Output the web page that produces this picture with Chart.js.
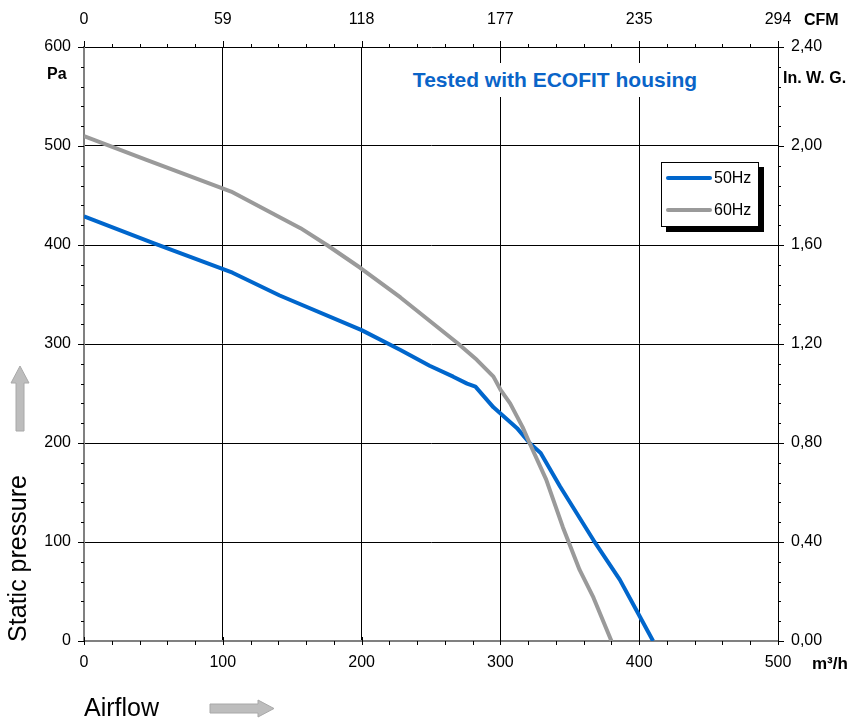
<!DOCTYPE html>
<html>
<head>
<meta charset="utf-8">
<script src="https://cdn.jsdelivr.net/npm/chart.js@4.4.1/dist/chart.umd.min.js"></script>
<style>
  html, body { margin: 0; padding: 0; background: #fff; }
  #wrap { position: relative; width: 851px; height: 720px; overflow: hidden; font-family: "Liberation Sans", Arial, Helvetica, sans-serif; }
  #c { position: absolute; left: 0; top: 0; }
  .lbl { position: absolute; line-height: 1; white-space: nowrap; color: #000; }
  .b { font-weight: bold; }
  #title { position: absolute; left: 405px; top: 63px; width: 300px; height: 34px; background: #fff;
           color: #0a64c8; font-weight: bold; font-size: 21px; line-height: 34px; text-align: center; white-space: nowrap; }
  #legend { position: absolute; left: 661px; top: 162px; width: 98px; height: 65px; box-sizing: border-box;
            border: 1px solid #000; background: #fff; box-shadow: 5px 5px 0 #000; }
  .lg-line { position: absolute; left: 4px; width: 46px; height: 4px; border-radius: 2px; }
  .lg-txt { position: absolute; left: 52px; font-size: 16px; line-height: 1; letter-spacing: 0; }
  #ylab { position: absolute; left: -83px; top: 546px; width: 200px; height: 25px; font-size: 25px; line-height: 1;
          text-align: center; transform: rotate(-90deg); transform-origin: 50% 50%; white-space: nowrap; }
  .arrow { position: absolute; }
</style>
</head>
<body>
<div id="wrap">
  <canvas id="c" width="851" height="720"></canvas>
  <div id="title">Tested with ECOFIT housing</div>
  <div id="legend"></div>
  <div class="lbl b" style="left:47px; top:66px; font-size:16px;">Pa</div>
  <div class="lbl b" style="left:804px; top:12px; font-size:16px;">CFM</div>
  <div class="lbl b" style="left:783px; top:70px; font-size:16px;">In. W. G.</div>
  <div class="lbl b" style="left:812px; top:655px; font-size:17px;">m³/h</div>
  <div class="lbl" style="left:84px; top:695px; font-size:25px;">Airflow</div>
  <div id="ylab">Static pressure</div>
  <svg class="arrow" style="left:8px; top:364px;" width="24" height="70" viewBox="0 0 24 70">
    <polygon points="12,2 21,19 16,19 16,67 8,67 8,19 3,19" fill="#bdbdbd" stroke="#a8a8a8" stroke-width="1"/>
  </svg>
  <svg class="arrow" style="left:208px; top:698px;" width="70" height="22" viewBox="0 0 70 22">
    <polygon points="2,6 50,6 50,2 66,10.5 50,19 50,15 2,15" fill="#bdbdbd" stroke="#a8a8a8" stroke-width="1"/>
  </svg>
</div>
<script>
// ---- data ----
const flow50 = [0, 50, 107, 141, 200, 228, 249, 266, 276, 282, 295, 312, 321, 329, 343, 367, 386, 398, 410];
const pres50 = [429, 402, 372, 349, 314, 294, 278, 267, 260, 257, 236, 215, 200, 190, 156, 102, 62, 31, 0];
const flow60 = [0, 45, 106, 141, 156, 175, 199, 228, 269, 283, 295, 300, 307, 316, 321, 333, 345, 357, 367, 380];
const pres60 = [510, 486, 454, 428, 417, 400, 377, 347, 301, 284, 267, 254, 240, 216, 200, 163, 115, 72, 44, 0];
const seriesNames = ['50Hz', '60Hz'];
const seriesColors = ['#0066cc', '#9a9a9a'];
const cfmLabels = ['0', '59', '118', '177', '235', '294'];
const inwgLabels = ['0,00', '0,40', '0,80', '1,20', '1,60', '2,00', '2,40'];

const toXY = (xs, ys) => xs.map((x, i) => ({ x: x, y: ys[i] }));

const FONT = { family: '"Liberation Sans", Arial, Helvetica, sans-serif', size: 16 };
const transparentEdges = (lo, hi) => (c) => (c.tick && (c.tick.value === lo || c.tick.value === hi)) ? 'rgba(0,0,0,0)' : '#000';

const minorTicks = {
  id: 'minorTicks',
  afterDraw(chart) {
    const ctx = chart.ctx;
    const a = chart.chartArea;
    const sx = chart.scales.x, sy = chart.scales.y;
    ctx.save();
    ctx.strokeStyle = '#000';
    ctx.lineWidth = 1;
    ctx.beginPath();
    for (let v = 0; v <= 500; v += 20) {
      const px = Math.round(sx.getPixelForValue(v)) + 0.5;
      const major = v % 100 === 0;
      ctx.moveTo(px, a.top - (major ? 6 : 3)); ctx.lineTo(px, a.top);
      ctx.moveTo(px, a.bottom - (major ? 4 : 0)); ctx.lineTo(px, a.bottom + 4);
    }
    for (let v = 0; v <= 600; v += 20) {
      const py = Math.round(sy.getPixelForValue(v)) + 0.5;
      const major = v % 100 === 0;
      ctx.moveTo(a.left - (major ? 6 : 3), py); ctx.lineTo(a.left, py);
      ctx.moveTo(a.right, py); ctx.lineTo(a.right + (major ? 6 : 3), py);
    }
    ctx.stroke();
    ctx.restore();
  }
};

const chart = new Chart(document.getElementById('c'), {
  type: 'line',
  data: {
    datasets: [
      { label: seriesNames[0], data: toXY(flow50, pres50), borderColor: seriesColors[0], borderWidth: 4, order: 2 },
      { label: seriesNames[1], data: toXY(flow60, pres60), borderColor: seriesColors[1], borderWidth: 4, order: 1 }
    ]
  },
  options: {
    responsive: false,
    animation: false,
    layout: { padding: 0 },
    plugins: { legend: { display: false }, tooltip: { enabled: false } },
    elements: { point: { radius: 0 }, line: { tension: 0, fill: false, borderJoinStyle: 'round' } },
    scales: {
      x: {
        type: 'linear', position: 'bottom', min: 0, max: 500,
        ticks: { stepSize: 100, font: FONT, color: '#000', padding: 12, maxRotation: 0 },
        grid: { color: transparentEdges(0, 500), lineWidth: 1, drawTicks: false },
        border: { color: '#808080', width: 2 },
        afterFit: s => { s.height = 79; }
      },
      x2: {
        type: 'linear', position: 'top', min: 0, max: 500,
        ticks: { stepSize: 100, font: FONT, color: '#000', padding: 18, maxRotation: 0,
                 callback: v => cfmLabels[Math.round(v / 100)] },
        grid: { display: false, drawTicks: false },
        border: { color: '#000', width: 1 },
        afterFit: s => { s.height = 47; }
      },
      y: {
        type: 'linear', position: 'left', min: 0, max: 600,
        ticks: { stepSize: 100, font: FONT, color: '#000', padding: 13 },
        grid: { color: transparentEdges(0, 600), lineWidth: 1, drawTicks: false },
        border: { color: '#808080', width: 2 },
        afterFit: s => { s.width = 84; }
      },
      y2: {
        type: 'linear', position: 'right', min: 0, max: 600,
        ticks: { stepSize: 100, font: FONT, color: '#000', padding: 13,
                 callback: v => inwgLabels[Math.round(v / 100)] },
        grid: { display: false, drawTicks: false },
        border: { color: '#000', width: 1 },
        afterFit: s => { s.width = 73; }
      }
    }
  },
  plugins: [minorTicks]
});

// HTML legend built from the datasets
const lg = document.getElementById('legend');
chart.data.datasets.forEach((ds, i) => {
  const y = 13 + i * 32;
  const line = document.createElement('div');
  line.className = 'lg-line';
  line.style.top = y + 'px';
  line.style.background = ds.borderColor;
  lg.appendChild(line);
  const t = document.createElement('div');
  t.className = 'lg-txt';
  t.style.top = (y + 2 - 8) + 'px';
  t.textContent = ds.label;
  lg.appendChild(t);
});
</script>
</body>
</html>
